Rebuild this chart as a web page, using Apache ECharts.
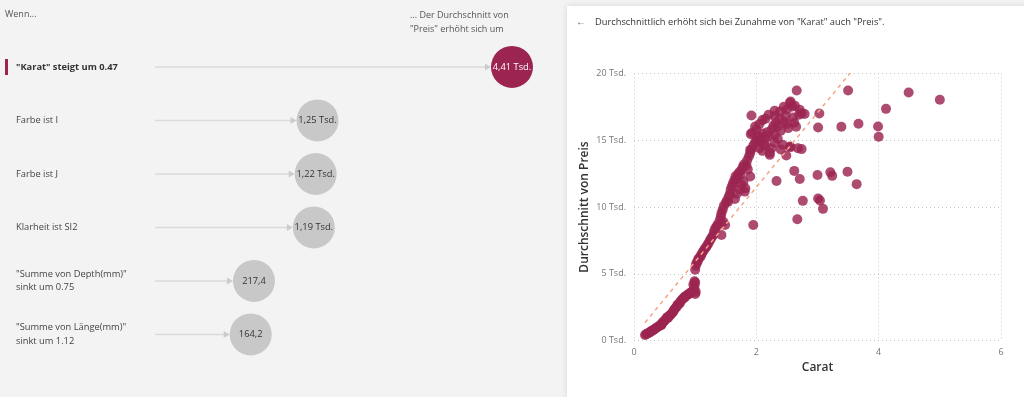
<!DOCTYPE html>
<html>
<head>
<meta charset="utf-8">
<script src="https://cdn.jsdelivr.net/npm/echarts@6/dist/echarts.min.js"></script>
<style>
  html, body { margin: 0; padding: 0; background: #f3f3f3; }
  #main { width: 1024px; height: 397px; }
</style>
</head>
<body>
<div id="main"></div>
<script>
// key influencers (left side)
var influencers = [
  '"Karat" steigt um 0.47',
  'Farbe ist I',
  'Farbe ist J',
  'Klarheit ist SI2',
  '"Summe von Depth(mm)"\nsinkt um 0.75',
  '"Summe von Länge(mm)"\nsinkt um 1.12'
];
var influenceValues = [4410, 1250, 1220, 1190, 217.4, 164.2];
var influenceLabels = ['4,41 Tsd.', '1,25 Tsd.', '1,22 Tsd.', '1,19 Tsd.', '217,4', '164,2'];

// scatter: carat vs. average price
var caratPrice = [
  [0.18,420],[0.2,480],[0.21,520],[0.23,560],[0.25,600],[0.27,680],[0.29,720],[0.3,760],[0.32,800],
  [0.34,880],[0.36,950],[0.38,1000],[0.4,1060],[0.42,1120],[0.44,1200],[0.45,1180],[0.46,1320],
  [0.48,1420],[0.5,1500],[0.52,1600],[0.53,1680],[0.55,1780],[0.56,1720],[0.58,1880],[0.6,1950],
  [0.62,2050],[0.64,2170],[0.65,2250],[0.66,2350],[0.68,2450],[0.7,2550],[0.71,2680],[0.73,2720],
  [0.75,2800],[0.76,2950],[0.78,3050],[0.8,3150],[0.82,3200],[0.83,3290],[0.85,3350],[0.88,3450],
  [0.9,3500],[0.92,3550],[0.94,3650],[0.96,3700],[0.98,3850],[0.99,4100],[1.0,4350],[1.0,3500],
  [0.97,4200],[1.01,3650],[0.99,4450],
  [1.0,5300],[1.01,5600],[1.02,5800],[1.04,5900],[1.05,6100],[1.07,6200],[1.09,6300],[1.1,6450],
  [1.12,6600],[1.14,6750],[1.16,6900],[1.18,7000],[1.2,7150],[1.22,7300],[1.24,7500],[1.26,7650],
  [1.28,7800],[1.3,7950],[1.31,8200],[1.33,8400],[1.35,8550],[1.37,8700],[1.4,9000],[1.42,9300],
  [1.43,9550],[1.46,8900],[1.49,8650],[1.43,7900],[1.45,9800],[1.47,10100],[1.5,10300],[1.52,10500],
  [1.54,10400],[1.55,10800],[1.57,11000],[1.58,11300],[1.6,11550],[1.62,11800],[1.64,12000],
  [1.66,12300],[1.68,12100],[1.7,12450],[1.72,12600],[1.74,12400],[1.76,12800],[1.78,13000],
  [1.8,13200],[1.79,11900],[1.82,11400],[1.81,11150],[1.75,11700],[1.9,12280],[1.84,13100],
  [1.86,12800],[1.73,11300],[1.68,11000],[1.65,10600],
  [1.85,13500],[1.88,13800],[1.9,14030],[1.92,14300],[1.95,14600],[1.9,14270],[1.98,14800],
  [2.0,15000],[1.93,15550],[1.98,16020],[1.92,16840],[1.91,15450],[2.02,15300],[2.05,14900],
  [2.08,15200],[2.1,15500],[2.12,14700],[2.15,15100],[2.18,15600],[2.2,15300],[2.22,13900],
  [2.22,14050],[2.25,15800],[2.28,16100],[2.3,15400],[2.32,16300],[2.35,16000],[2.38,16600],
  [2.39,17140],[2.4,15700],[2.43,14650],[2.45,16400],[2.48,16800],[2.5,16200],[2.52,15900],
  [2.55,17790],[2.55,14520],[2.56,14480],[2.59,17520],[2.6,16700],[2.62,16300],[2.66,18710],
  [2.74,17020],[2.74,14330],[2.68,14400],[2.79,16950],[2.49,13850],[2.05,16200],[2.1,16500],
  [2.15,16600],[2.2,16900],[2.0,15800],[2.05,14400],[2.1,14200],[2.15,14600],[2.25,14400],
  [2.3,14800],[2.35,15100],[2.4,14300],[2.3,17200],[2.45,17500],[2.5,17300],[2.3,16800],
  [2.65,16000],[2.7,16900],[2.56,17890],[2.63,17570],[2.71,17270],
  [3.50,18710],[4.49,18560],[5.00,18020],[4.12,17340],[3.67,16220],[3.39,16000],[3.99,16020],
  [4.00,15250],[3.01,15940],[3.03,16990],[2.62,12700],[2.71,12100],[3.00,12400],[3.21,12600],
  [3.24,12330],[3.49,12630],[3.64,11710],[2.76,10460],[3.01,10630],[3.04,10480],[3.09,9860],
  [2.67,9090],[1.95,8660],[2.33,11950]
];

// regression line end points
var trendCarat = [0.18, 3.53];
var trendPrice = [1350, 20000];

var chart = echarts.init(document.getElementById('main'));
var font = '"Open Sans", "Noto Sans", sans-serif';

var option = {
  backgroundColor: '#f3f3f3',
  textStyle: { fontFamily: font },
  graphic: [
    { type: 'rect', z: 0, shape: { x: 567, y: 6, width: 470, height: 400 },
      style: { fill: '#ffffff', shadowBlur: 6, shadowColor: 'rgba(0,0,0,0.12)' } },
    { type: 'rect', z: 0, shape: { x: 5, y: 59, width: 3, height: 16 }, style: { fill: '#9b2451' } },
    { type: 'text', z: 10, x: 5, y: 10, style: { text: 'Wenn...', fill: '#555', font: '9px ' + font } },
    { type: 'text', z: 10, x: 410, y: 9, style: { text: '... Der Durchschnitt von\n"Preis" erhöht sich um',
      fill: '#555', font: '9px ' + font, lineHeight: 13.5 } },
    { type: 'text', z: 10, x: 576, y: 17, style: { text: '←', fill: '#555', font: '10px ' + font } },
    { type: 'text', z: 10, x: 595, y: 18, style: { text: 'Durchschnittlich erhöht sich bei Zunahme von "Karat" auch "Preis".',
      fill: '#333', font: '9.3px ' + font } }
  ],
  grid: [
    { left: 634, right: 23, top: 73.3, bottom: 56.3 },
    { left: 240.6, width: 307.7, top: 40.2, height: 321 }
  ],
  xAxis: [
    {
      gridIndex: 0, type: 'value', min: 0, max: 6, interval: 2,
      name: 'Carat', nameLocation: 'middle', nameGap: 19,
      nameTextStyle: { color: '#333', fontSize: 12, fontWeight: 600 },
      axisLine: { show: false }, axisTick: { show: false },
      axisLabel: { color: '#777', fontSize: 9, margin: 7 },
      splitLine: { show: true, lineStyle: { type: [1, 3], color: '#c4c4c4' } }
    },
    { gridIndex: 1, type: 'value', min: 0, max: 5000, show: false }
  ],
  yAxis: [
    {
      gridIndex: 0, type: 'value', min: 0, max: 20000, interval: 5000,
      name: 'Durchschnitt von Preis', nameLocation: 'middle', nameGap: 43, nameRotate: 90,
      nameTextStyle: { color: '#333', fontSize: 12, fontWeight: 600 },
      axisLine: { show: false }, axisTick: { show: false },
      axisLabel: { color: '#777', fontSize: 9, margin: 8,
        formatter: function (v) { return (v / 1000) + ' Tsd.'; } },
      splitLine: { show: true, lineStyle: { type: [1, 3], color: '#c4c4c4' } }
    },
    {
      gridIndex: 1, type: 'category', data: influencers, inverse: true,
      axisLine: { show: false }, axisTick: { show: false }, splitLine: { show: false },
      axisLabel: {
        align: 'left', margin: 224.6, fontSize: 9.3, color: '#444', lineHeight: 13.5,
        formatter: function (v, i) { return i === 0 ? '{b|' + v + '}' : v; },
        rich: { b: { fontWeight: 'bold', color: '#333', fontSize: 9.3 } }
      }
    }
  ],
  series: [
    {
      type: 'line', xAxisIndex: 0, yAxisIndex: 0,
      data: trendCarat.map(function (c, i) { return [c, trendPrice[i]]; }),
      symbol: 'none', silent: true,
      lineStyle: { color: '#f4a582', width: 1.5, type: [4, 4] }, z: 3
    },
    {
      type: 'scatter', xAxisIndex: 0, yAxisIndex: 0, data: caratPrice,
      symbolSize: 10, itemStyle: { color: '#9b2451', opacity: 0.82 }, z: 2
    },
    {
      type: 'custom', xAxisIndex: 1, yAxisIndex: 1,
      data: influenceValues.map(function (v, i) { return [v, i]; }),
      renderItem: function (params, api) {
        var p = api.coord([api.value(0), api.value(1)]);
        var x0 = 155, x1 = p[0] - 21;
        return {
          type: 'group',
          children: [
            { type: 'line', shape: { x1: x0, y1: p[1], x2: x1 - 5, y2: p[1] },
              style: { stroke: '#dadada', lineWidth: 1.5 } },
            { type: 'polygon', shape: { points: [[x1 - 6, p[1] - 3.5], [x1, p[1]], [x1 - 6, p[1] + 3.5]] },
              style: { fill: '#cccccc' } }
          ]
        };
      },
      z: 2
    },
    {
      type: 'scatter', xAxisIndex: 1, yAxisIndex: 1,
      data: influenceValues.map(function (v, i) { return [v, i]; }),
      symbolSize: 42,
      itemStyle: { color: function (p) { return p.dataIndex === 0 ? '#9b2451' : '#c8c8c8'; }, opacity: 1 },
      label: {
        show: true, position: 'inside', fontSize: 9.3,
        formatter: function (p) { return influenceLabels[p.dataIndex]; },
        color: '#333'
      },
      z: 3
    }
  ]
};

// white text on the highlighted circle
option.series[3].data = option.series[3].data.map(function (d, i) {
  return i === 0 ? { value: d, label: { color: '#fff' } } : d;
});

chart.setOption(option);
</script>
</body>
</html>
